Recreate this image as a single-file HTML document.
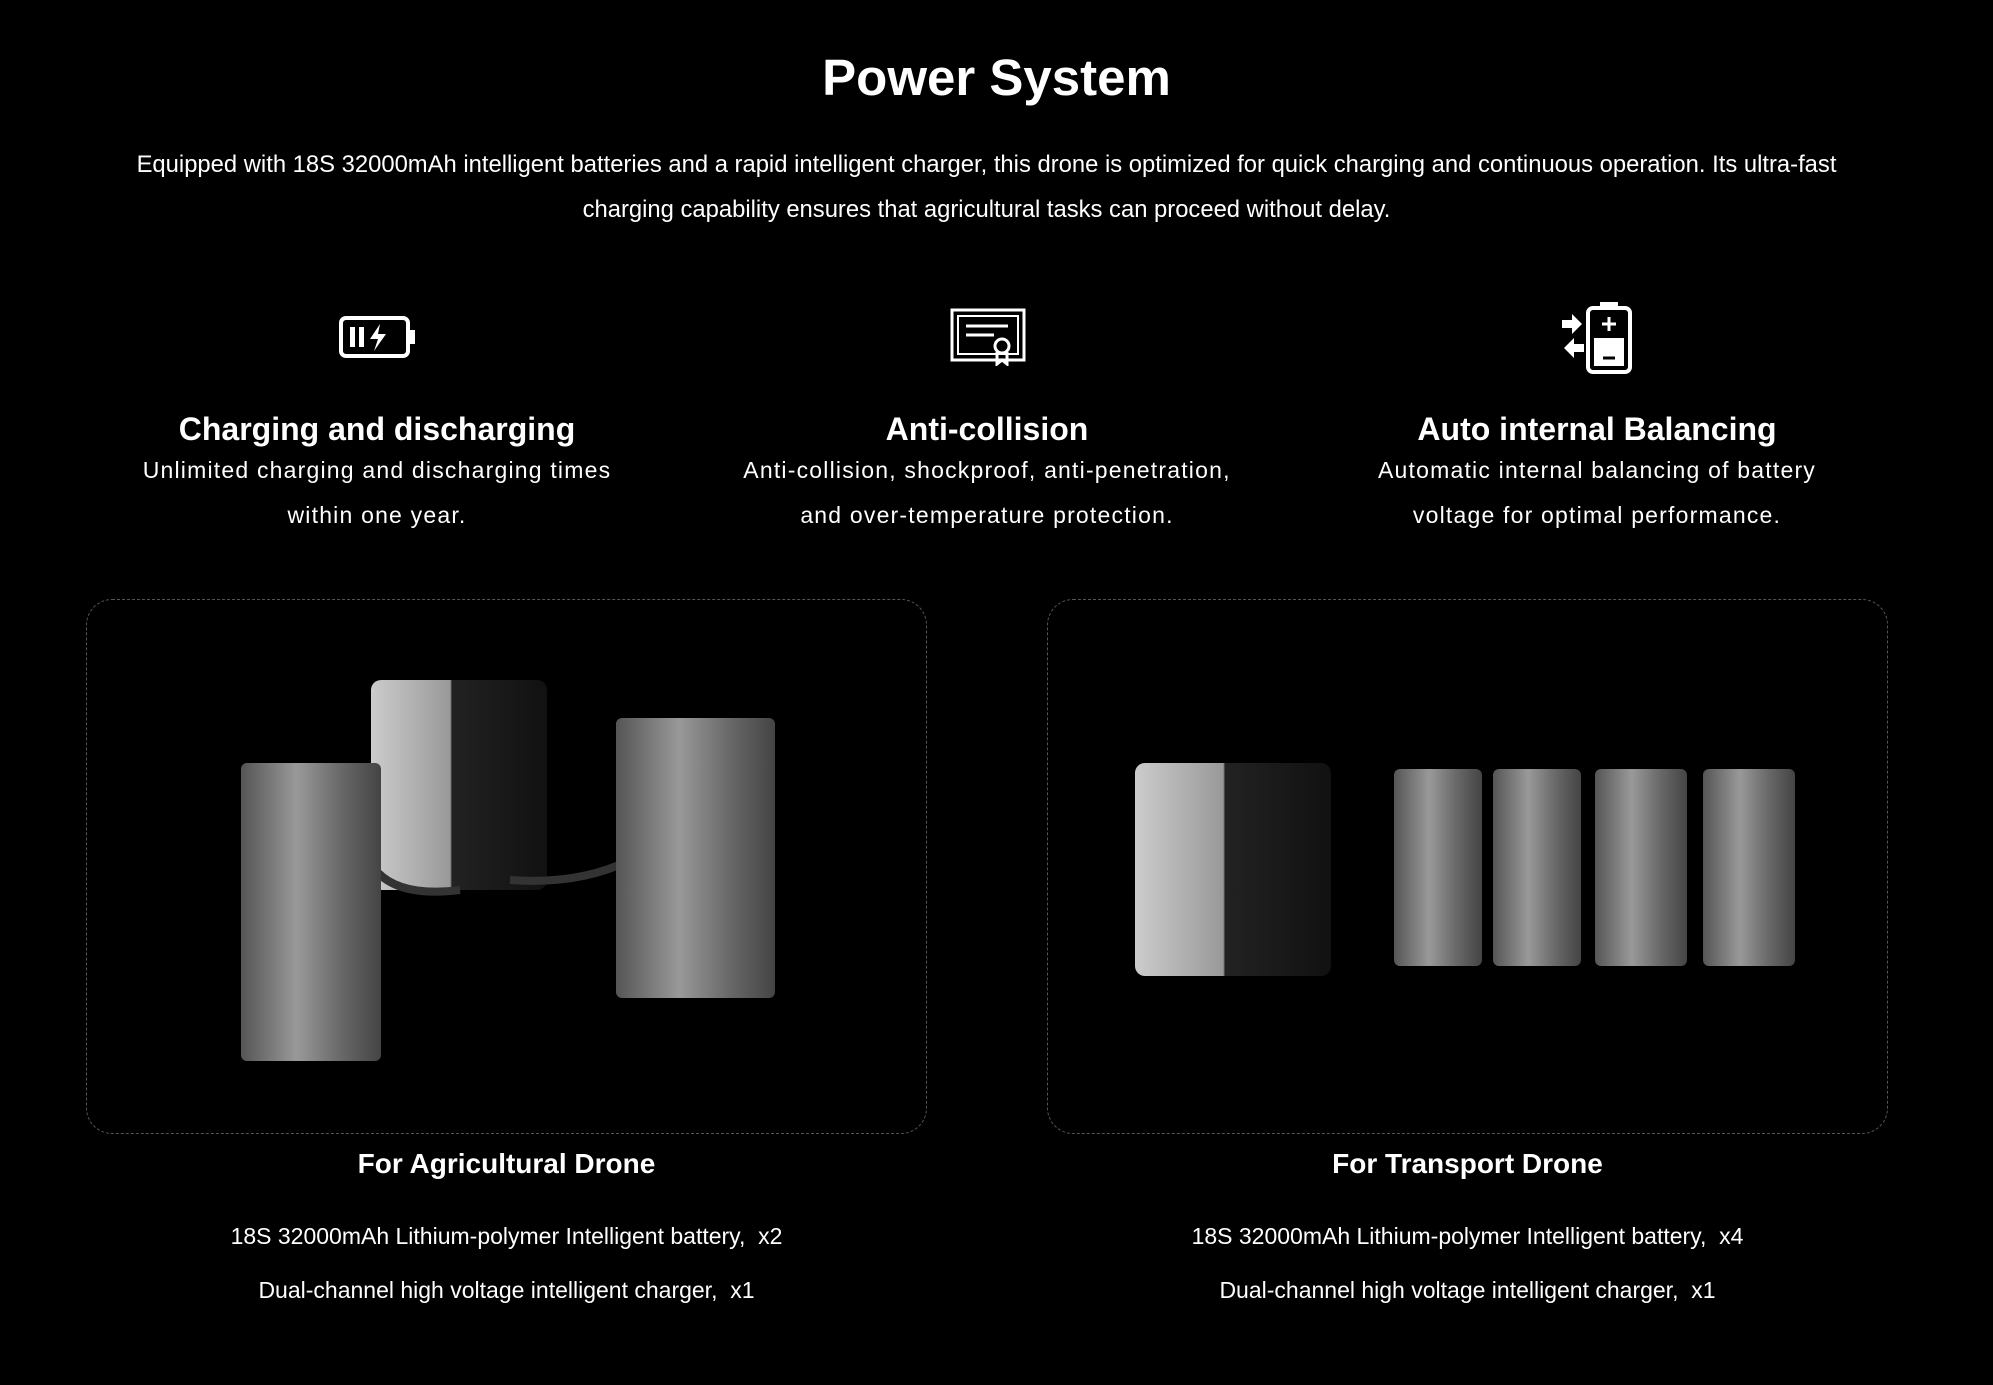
<!DOCTYPE html>
<html><head><meta charset="utf-8"><style>
*{margin:0;padding:0;box-sizing:border-box}
body{width:1993px;height:1385px;background:#000;color:#fff;font-family:"Liberation Sans",sans-serif;position:relative;overflow:hidden}
.a{position:absolute;text-align:center}
h1{position:absolute;top:48px;left:0;width:1993px;text-align:center;font-size:51px;font-weight:bold}
.p{top:142px;left:0;width:1973px;font-size:23.8px;line-height:45px}
.h{font-size:32px;font-weight:bold;width:640px}
.d{font-size:23px;line-height:45px;width:640px;letter-spacing:1.2px}
.box{position:absolute;top:599px;width:841px;height:535px;border:1.5px dashed #555;border-radius:26px}
.cap{font-size:28px;font-weight:bold;width:841px}
.l{font-size:23px;width:841px}
.bat{position:absolute;background:linear-gradient(90deg,#555,#999 40%,#6a6a6a 70%,#444);border-radius:6px}
.chg{position:absolute;background:linear-gradient(90deg,#ccc,#999 45%,#222 46%,#111);border-radius:10px}
</style></head><body>
<h1>Power System</h1>
<div class="a p">Equipped with 18S 32000mAh intelligent batteries and a rapid intelligent charger, this drone is optimized for quick charging and continuous operation. Its ultra-fast<br>charging capability ensures that agricultural tasks can proceed without delay.</div>

<svg class="a" style="left:338px;top:314px" width="80" height="46" viewBox="0 0 80 46"><rect x="3" y="4" width="67" height="38" rx="5" fill="none" stroke="#fff" stroke-width="4"/><rect x="70" y="16" width="7" height="14" fill="#fff"/><rect x="12" y="13" width="5" height="20" fill="#fff"/><rect x="21" y="13" width="5" height="20" fill="#fff"/><path d="M42 10 L32 25 H40 L36 37 L48 20 H40 Z" fill="#fff"/></svg>
<svg class="a" style="left:950px;top:308px" width="76" height="58" viewBox="0 0 76 58"><rect x="2" y="2" width="72" height="50" fill="none" stroke="#fff" stroke-width="3"/><rect x="8" y="8" width="60" height="38" fill="none" stroke="#fff" stroke-width="2"/><line x1="16" y1="18" x2="58" y2="18" stroke="#fff" stroke-width="3"/><line x1="16" y1="27" x2="44" y2="27" stroke="#fff" stroke-width="3"/><circle cx="52" cy="38" r="7" fill="#000" stroke="#fff" stroke-width="3"/><path d="M47 44 L47 56 L52 52 L57 56 L57 44" fill="none" stroke="#fff" stroke-width="3"/></svg>
<svg class="a" style="left:1560px;top:300px" width="76" height="76" viewBox="0 0 76 76"><rect x="28" y="8" width="42" height="64" rx="5" fill="none" stroke="#fff" stroke-width="4"/><rect x="40" y="2" width="18" height="7" fill="#fff"/><line x1="42" y1="24" x2="56" y2="24" stroke="#fff" stroke-width="3"/><line x1="49" y1="17" x2="49" y2="31" stroke="#fff" stroke-width="3"/><rect x="34" y="38" width="30" height="28" fill="#fff"/><line x1="43" y1="58" x2="55" y2="58" stroke="#000" stroke-width="3"/><path d="M2 20 H12 V14 L22 24 L12 34 V28 H2Z" fill="#fff"/><path d="M24 44 H14 V38 L4 48 L14 58 V52 H24Z" fill="#fff"/></svg>

<div class="a h" style="left:57px;top:411px">Charging and discharging</div>
<div class="a d" style="left:57px;top:448px">Unlimited charging and discharging times<br>within one year.</div>
<div class="a h" style="left:667px;top:411px">Anti-collision</div>
<div class="a d" style="left:667px;top:448px">Anti-collision, shockproof, anti-penetration,<br>and over-temperature protection.</div>
<div class="a h" style="left:1277px;top:411px">Auto internal Balancing</div>
<div class="a d" style="left:1277px;top:448px">Automatic internal balancing of battery<br>voltage for optimal performance.</div>

<div class="box" style="left:86px"></div>
<div class="box" style="left:1047px"></div>

<div class="chg" style="left:371px;top:680px;width:176px;height:210px"></div>
<svg class="a" style="left:360px;top:840px" width="280" height="80"><path d="M5 10 Q20 60 100 50 M270 20 Q220 45 150 40" fill="none" stroke="#333" stroke-width="8"/></svg>
<div class="bat" style="left:241px;top:763px;width:140px;height:298px"></div>
<div class="bat" style="left:616px;top:718px;width:159px;height:280px"></div>
<div class="chg" style="left:1135px;top:763px;width:196px;height:213px"></div>
<div class="bat" style="left:1394px;top:769px;width:88px;height:197px"></div>
<div class="bat" style="left:1493px;top:769px;width:88px;height:197px"></div>
<div class="bat" style="left:1595px;top:769px;width:92px;height:197px"></div>
<div class="bat" style="left:1703px;top:769px;width:92px;height:197px"></div>

<div class="a cap" style="left:86px;top:1148px">For Agricultural Drone</div>
<div class="a l" style="left:86px;top:1223px">18S 32000mAh Lithium-polymer Intelligent battery,&nbsp; x2</div>
<div class="a l" style="left:86px;top:1277px">Dual-channel high voltage intelligent charger,&nbsp; x1</div>
<div class="a cap" style="left:1047px;top:1148px">For Transport Drone</div>
<div class="a l" style="left:1047px;top:1223px">18S 32000mAh Lithium-polymer Intelligent battery,&nbsp; x4</div>
<div class="a l" style="left:1047px;top:1277px">Dual-channel high voltage intelligent charger,&nbsp; x1</div>
</body></html>
